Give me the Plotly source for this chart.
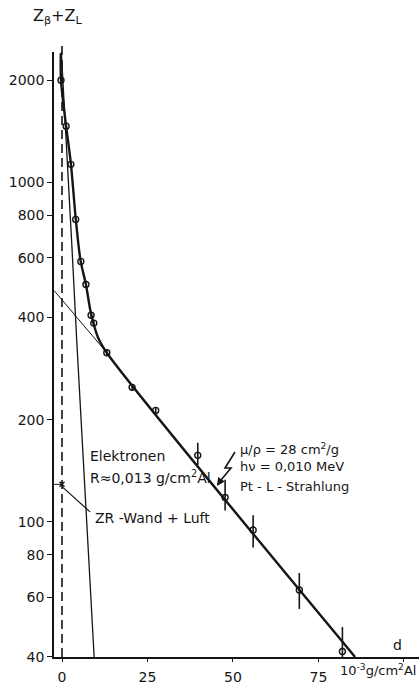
import plotly.graph_objects as go

# Measured counting rate vs absorber thickness (10^-3 g/cm^2 Al)
d_meas = [-0.3, 1.2, 2.6, 4.0, 5.5, 7.0, 8.5, 9.3, 13.1, 20.5, 27.4, 39.7, 47.7, 55.9, 69.4, 82.0]
z_meas = [2000, 1464, 1130, 778, 585, 500, 406, 385, 315, 249, 213, 157, 118, 94.6, 63, 41.5]
err_up = [0, 0, 0, 0, 0, 0, 6, 6, 7, 5, 4, 14, 15, 10, 7.7, 7.5]
err_dn = [0, 0, 0, 0, 0, 0, 6, 6, 7, 5, 4, 10, 10, 10.6, 7.6, 1.5]

# Total fitted curve (electrons + Pt-L radiation)
d_fit = [-0.35, -0.3, 1.2, 2.6, 4.0, 5.4, 7.0, 8.5, 10.5, 13.1, 85.7]
z_fit = [2400, 2000, 1464, 1135, 785, 590, 500, 410, 350, 315, 40]

# Electron component
d_el = [-0.2, 1.1, 2.8, 4.3, 7.4, 9.4]
z_el = [2420, 1425, 676, 343, 95, 40]

# Extrapolated photon component
d_ph = [-2.3, 13.1]
z_ph = [480, 315]

# ZR wall + air background
d_bg = [-3.0, 0.0]
z_bg = [129, 129]
d_bg_lead = [0.0, 8.2]
z_bg_lead = [127, 107]

y_ticks = [40, 60, 80, 100, 200, 400, 600, 800, 1000, 2000]
x_ticks = [0, 25, 50, 75, 100]
x_labels = ["0", "25", "50", "75", ""]

INK = "#151515"
FONT = "DejaVu Sans"

W, H = 419, 689
L, R, T, B = 54, 0, 52, 32


def px(x, y):
    return (x - L) / (W - L - R), (H - B - y) / (H - T - B)


fig = go.Figure()

fig.add_trace(go.Scatter(x=d_ph, y=z_ph, mode="lines",
                         line=dict(color=INK, width=1.0), hoverinfo="skip"))
fig.add_trace(go.Scatter(x=d_el, y=z_el, mode="lines",
                         line=dict(color=INK, width=1.3), hoverinfo="skip"))
fig.add_trace(go.Scatter(x=d_fit, y=z_fit, mode="lines",
                         line=dict(color=INK, width=2.4, shape="spline", smoothing=0.8),
                         hoverinfo="skip"))
fig.add_trace(go.Scatter(x=d_meas, y=z_meas, mode="markers",
                         marker=dict(symbol="circle-open", size=6, color=INK,
                                     line=dict(width=1.4, color=INK)),
                         error_y=dict(type="data", array=err_up, arrayminus=err_dn,
                                      symmetric=False, width=0, thickness=1.6, color=INK)))
fig.add_trace(go.Scatter(x=d_bg, y=z_bg, mode="markers+lines", cliponaxis=False,
                         marker=dict(symbol="x-thin", size=5, color=INK,
                                     line=dict(width=1.3, color=INK)),
                         line=dict(color=INK, width=1)))
fig.add_trace(go.Scatter(x=d_bg_lead, y=z_bg_lead, mode="lines",
                         line=dict(color=INK, width=1.2), hoverinfo="skip"))

# dashed zero-thickness line
fig.add_shape(type="line", xref="x", yref="paper", x0=0, x1=0, y0=0, y1=1.017,
              line=dict(color=INK, width=1.6, dash="9px,5px"))

# lightning arrow pointing at the photon line
p = [px(235, 452), px(225, 468), px(231, 468), px(221, 480)]
path = "M {} {} L {} {} L {} {} L {} {}".format(*[v for pt in p for v in pt])
fig.add_shape(type="path", xref="paper", yref="paper", path=path,
              line=dict(color=INK, width=1.6))
tx, ty = px(217, 486)
fig.add_annotation(x=tx, y=ty, xref="paper", yref="paper", text="", showarrow=True,
                   ax=4, ay=-6, arrowhead=2, arrowsize=1, arrowwidth=1.6,
                   arrowcolor=INK)


def label(text, x, y, anchor="left", size=14):
    xp, yp = px(x, y)
    fig.add_annotation(x=xp, y=yp, xref="paper", yref="paper", text=text,
                       showarrow=False, xanchor=anchor, yanchor="middle",
                       font=dict(family=FONT, size=size, color=INK))


label("Z<sub>β</sub>+Z<sub>L</sub>", 57, 16, anchor="center", size=16)
label("Elektronen", 88, 456)
label("R≈0,013 g/cm<sup>2</sup>Al", 88, 477)
label("μ/ρ = 28 cm<sup>2</sup>/g", 238, 449, size=13)
label("hν = 0,010 MeV", 238, 467, size=13)
label("Pt - L - Strahlung", 238, 486, size=13)
label("ZR -Wand + Luft", 93, 518)
label("d", 397, 645, anchor="center")
label("10<sup>-3</sup>g/cm<sup>2</sup>Al", 418, 670, anchor="right", size=13)

fig.update_layout(
    width=W, height=H,
    margin=dict(l=L, r=R, t=T, b=B),
    paper_bgcolor="white", plot_bgcolor="white",
    showlegend=False,
    font=dict(family=FONT, size=14, color=INK),
    xaxis=dict(range=[-2.34, 104.4], tickvals=x_ticks, ticktext=x_labels,
               showgrid=False, zeroline=False, showline=True, linewidth=1.6,
               linecolor=INK, ticks="outside", ticklen=3, tickwidth=1.2,
               tickcolor=INK, ticklabelstandoff=3),
    yaxis=dict(type="log", range=[1.602, 3.384], tickvals=y_ticks,
               showgrid=False, zeroline=False, showline=True, linewidth=1.6,
               linecolor=INK, ticks="outside", ticklen=5, tickwidth=1.3,
               tickcolor=INK),
)

fig.write_html("out.html")
